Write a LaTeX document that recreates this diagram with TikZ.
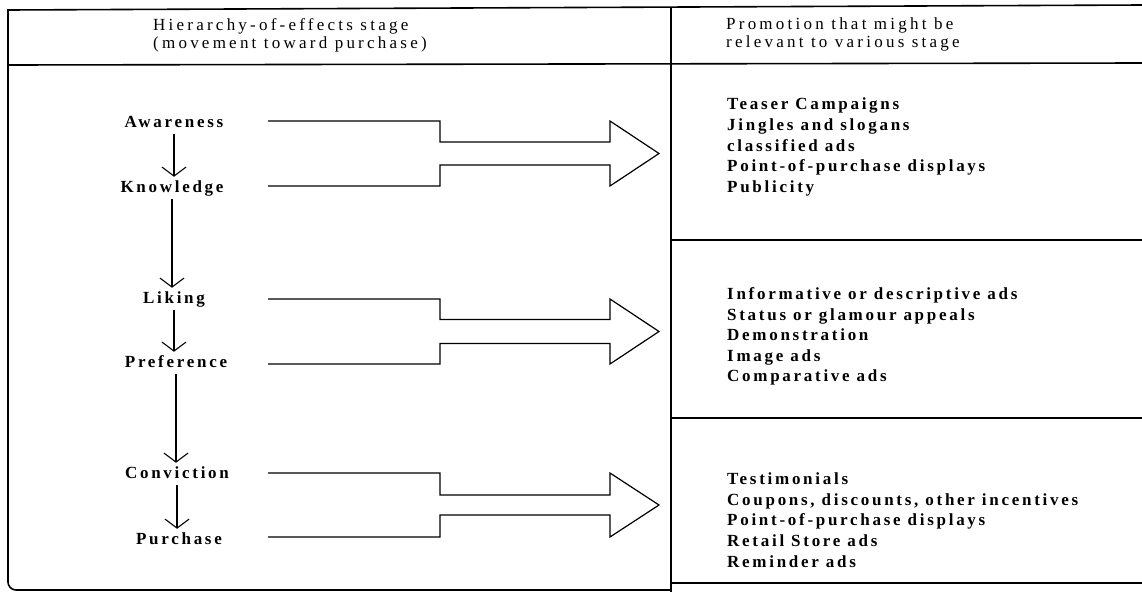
\documentclass[tikz,border=0pt]{standalone}
\usepackage{fontspec}
\setmainfont{Liberation Serif}[LetterSpace=16]
\newfontfamily\hdfont{Liberation Serif}[LetterSpace=19]
\usetikzlibrary{arrows.meta}
\newcommand\hoeblock[3]{%
  \draw[blockarrow] (268,#1) -- (440,#1) -- (440,{(#1+#2)/2-#3}) -- (610,{(#1+#2)/2-#3})
    -- (610,#1) -- (659,{(#1+#2)/2}) -- (610,#2) -- (610,{(#1+#2)/2+#3})
    -- (440,{(#1+#2)/2+#3}) -- (440,#2) -- (268,#2);}
\begin{document}
\begin{tikzpicture}[x=1pt,y=-1pt]
\tikzset{
  frame/.style={line width=1.6pt},
  stage/.style={inner sep=4pt, text height=11pt, text depth=3pt, font=\fontsize{17}{18}\bfseries},
  listtext/.style={align=left, anchor=west, inner sep=0pt, font=\fontsize{17}{20.6}\bfseries},
  head/.style={align=left, anchor=west, inner sep=0pt, font=\hdfont\fontsize{17}{18}\selectfont},
  varrow/.style={line width=1.1pt, -{Straight Barb[length=9pt,width=24pt,line width=1.1pt]}},
  blockarrow/.style={line width=1.2pt, line join=miter},
}
\useasboundingbox (0,0) rectangle (1142,592);
% frame
\draw[frame] (1142,5) -- (8,10);
\draw[frame, rounded corners=8pt] (8,9) -- (8,590) -- (671,590);
\draw[frame] (671,7) -- (671,592);
\draw[frame] (8,65) -- (1142,63);
\draw[frame] (671,240) -- (1142,240);
\draw[frame] (671,418) -- (1142,418);
\draw[frame] (671,583) -- (1142,583);
% headers
\node[head] (h1) at (153,35.5) {Hierarchy-of-effects stage\\(movement toward purchase)};
\node[head] (h2) at (726,34) {Promotion that might be\\relevant to various stage};
% stages
\node[stage] (aw) at (174,123) {Awareness};
\node[stage] (kn) at (172,188) {Knowledge};
\node[stage] (li) at (174,299) {Liking};
\node[stage] (pr) at (176,363) {Preference};
\node[stage] (co) at (177,474) {Conviction};
\node[stage] (pu) at (179,540) {Purchase};
\draw[varrow] (aw.south) -- (aw.south |- kn.north);
\draw[varrow] (kn.south) -- (kn.south |- li.north);
\draw[varrow] (li.south) -- (li.south |- pr.north);
\draw[varrow] (pr.south) -- (pr.south |- co.north);
\draw[varrow] (co.south) -- (co.south |- pu.north);
% block arrows
\hoeblock{121}{186}{11.5}
\hoeblock{299}{364}{12}
\hoeblock{473}{537}{10}
% lists
\node[listtext] (l1) at (727,147) {Teaser Campaigns\\Jingles and slogans\\classified ads\\Point-of-purchase displays\\Publicity};
\node[listtext] (l2) at (727,336.5) {Informative or descriptive ads\\Status or glamour appeals\\Demonstration\\Image ads\\Comparative ads};
\node[listtext] (l3) at (727,520) {Testimonials\\Coupons, discounts, other incentives\\Point-of-purchase displays\\Retail Store ads\\Reminder ads};
\end{tikzpicture}
\end{document}
